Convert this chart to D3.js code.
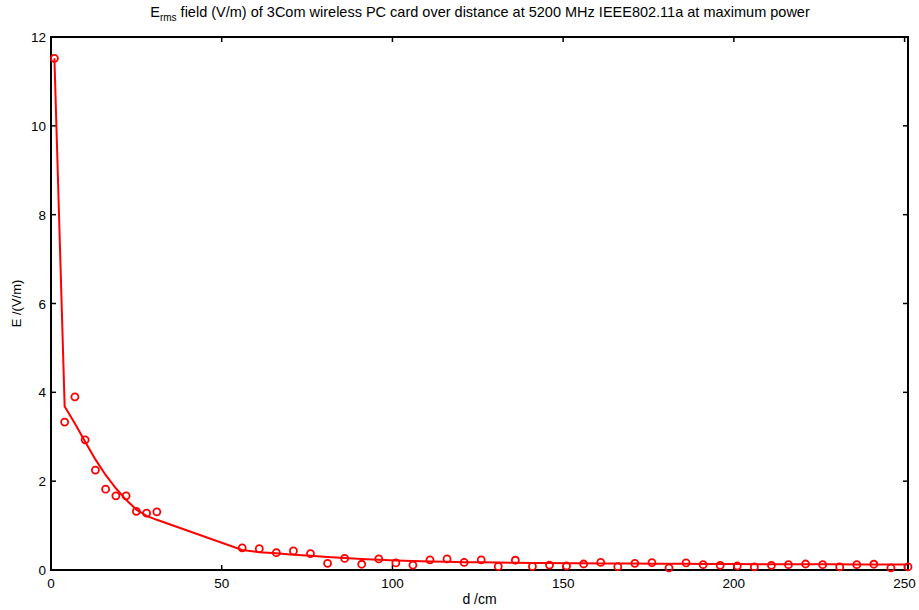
<!DOCTYPE html>
<html><head><meta charset="utf-8">
<script src="https://cdn.jsdelivr.net/npm/d3@7"></script>
<style>body{margin:0;background:#fff;} text{font-family:"Liberation Sans",Arial,sans-serif;}</style>
</head><body><svg id="c" width="919" height="610"></svg>
<script>
const distances = [1,4,7,10,13,16,19,22,25,28,31,56,61,66,71,76,81,86,91,96,101,106,111,116,121,126,131,136,141,146,151,156,161,166,171,176,181,186,191,196,201,206,211,216,221,226,231,236,241,246,251];
const measured = [11.52,3.33,3.90,2.93,2.25,1.82,1.67,1.67,1.32,1.28,1.31,0.50,0.48,0.39,0.43,0.37,0.15,0.26,0.13,0.25,0.16,0.11,0.23,0.25,0.17,0.23,0.08,0.22,0.08,0.11,0.09,0.135,0.17,0.075,0.15,0.165,0.05,0.16,0.12,0.105,0.09,0.07,0.105,0.12,0.135,0.12,0.07,0.12,0.13,0.05,0.07];
const fitted = [11.52,3.68,3.30,2.89,2.49,2.14,1.84,1.58,1.36,1.22,1.13,0.45,0.40,0.375,0.345,0.32,0.295,0.27,0.25,0.23,0.215,0.20,0.19,0.183,0.177,0.172,0.168,0.164,0.160,0.157,0.154,0.151,0.148,0.146,0.144,0.142,0.140,0.138,0.136,0.135,0.134,0.132,0.131,0.130,0.129,0.128,0.127,0.126,0.125,0.124,0.123];
const xTicks = [0,50,100,150,200,250];
const yTicks = [0,2,4,6,8,10,12];

const svg = d3.select('#c');
const L=51, R=908, T=37, B=570;
const x = d3.scaleLinear().domain([0,251]).range([L,R]);
const y = d3.scaleLinear().domain([0,12]).range([B,T]);

const tl=5;
const g = svg.append('g');
xTicks.forEach(t=>{
  g.append('line').attr('x1',x(t)).attr('x2',x(t)).attr('y1',B).attr('y2',B-tl).attr('stroke','#000').attr('stroke-width',1.5);
  g.append('line').attr('x1',x(t)).attr('x2',x(t)).attr('y1',T).attr('y2',T+tl).attr('stroke','#000').attr('stroke-width',1.5);
  g.append('text').attr('x',x(t)).attr('y',B+18).attr('text-anchor','middle').attr('font-size',13.5).text(t);
});
yTicks.forEach(t=>{
  g.append('line').attr('x1',L).attr('x2',L+tl).attr('y1',y(t)).attr('y2',y(t)).attr('stroke','#000').attr('stroke-width',1.5);
  g.append('line').attr('x1',R).attr('x2',R-tl).attr('y1',y(t)).attr('y2',y(t)).attr('stroke','#000').attr('stroke-width',1.5);
  g.append('text').attr('x',L-5).attr('y',y(t)+5).attr('text-anchor','end').attr('font-size',13.5).text(t);
});

const pts = distances.map((d,i)=>({d, m:measured[i], f:fitted[i]}));
svg.append('path').datum(pts)
  .attr('d', d3.line().x(p=>x(p.d)).y(p=>y(p.f)))
  .attr('fill','none').attr('stroke','#ff0000').attr('stroke-width',2);

svg.append('rect').attr('x',L).attr('y',T).attr('width',R-L).attr('height',B-T)
  .attr('fill','none').attr('stroke','#000').attr('stroke-width',2);

svg.append('g').selectAll('circle').data(pts).join('circle')
  .attr('cx',p=>x(p.d)).attr('cy',p=>y(p.m)).attr('r',3.5)
  .attr('fill','none').attr('stroke','#ff0000').attr('stroke-width',1.8);

const title = svg.append('text').attr('x',480).attr('y',17).attr('text-anchor','middle').attr('font-size',14.5);
title.append('tspan').text('E');
title.append('tspan').attr('font-size',10).attr('dy',4).text('rms');
title.append('tspan').attr('dy',-4).text(' field (V/m) of 3Com wireless PC card over distance at 5200 MHz IEEE802.11a at maximum power');

svg.append('text').attr('x',(L+R)/2).attr('y',604).attr('text-anchor','middle').attr('font-size',14).text('d /cm');
svg.append('text').attr('transform',`translate(21,${(T+B)/2}) rotate(-90)`).attr('text-anchor','middle').attr('font-size',13).text('E /(V/m)');
</script></body></html>
